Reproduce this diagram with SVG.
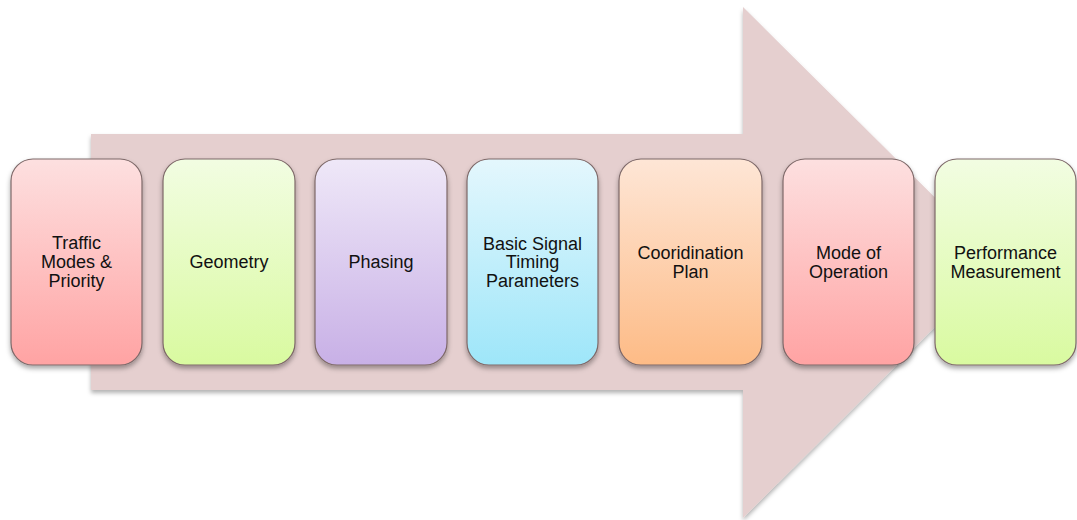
<svg xmlns="http://www.w3.org/2000/svg" width="1077" height="520" viewBox="0 0 1077 520">
<defs>
<filter id="arrowShadow" x="-5%" y="-5%" width="110%" height="115%">
<feDropShadow dx="0" dy="3" stdDeviation="2" flood-color="#000" flood-opacity="0.3"/>
</filter>
<filter id="boxShadow" x="-10%" y="-10%" width="120%" height="120%">
<feDropShadow dx="0" dy="3" stdDeviation="2.5" flood-color="#000" flood-opacity="0.35"/>
</filter>
<linearGradient id="gRed" x1="0" y1="0" x2="0" y2="1"><stop offset="0" stop-color="#fde0e0"/><stop offset="1" stop-color="#ffa3a3"/></linearGradient>
<linearGradient id="gGreen" x1="0" y1="0" x2="0" y2="1"><stop offset="0" stop-color="#f2fde2"/><stop offset="1" stop-color="#d9faa0"/></linearGradient>
<linearGradient id="gPurple" x1="0" y1="0" x2="0" y2="1"><stop offset="0" stop-color="#efe8f8"/><stop offset="1" stop-color="#c8b0e6"/></linearGradient>
<linearGradient id="gBlue" x1="0" y1="0" x2="0" y2="1"><stop offset="0" stop-color="#e4f7fd"/><stop offset="1" stop-color="#9ee6f9"/></linearGradient>
<linearGradient id="gOrange" x1="0" y1="0" x2="0" y2="1"><stop offset="0" stop-color="#fee6d6"/><stop offset="1" stop-color="#fdbb86"/></linearGradient>
</defs>
<style>
.box { stroke: #7d6868; stroke-width: 1.2; filter: url(#boxShadow); }
.lbl { font-family: "Liberation Sans", Arial, sans-serif; font-size: 18px; fill: #111; text-anchor: middle; }
</style>
<rect width="1077" height="520" fill="#ffffff"/>
<g id="connectors">
<polygon id="process-arrow" points="91,134 743,134 743,7 1000,262 743,518 743,390 91,390" fill="#e5cfcf" filter="url(#arrowShadow)"/>
</g>
<g id="node-traffic">
<rect class="box" x="11" y="159" width="131" height="206" rx="22" fill="url(#gRed)"/>
<text class="lbl" x="76.5" y="249">Traffic</text>
<text class="lbl" x="76.5" y="268">Modes &amp;</text>
<text class="lbl" x="76.5" y="287">Priority</text>
</g>
<g id="node-geometry">
<rect class="box" x="163" y="159" width="132" height="206" rx="22" fill="url(#gGreen)"/>
<text class="lbl" x="229" y="268">Geometry</text>
</g>
<g id="node-phasing">
<rect class="box" x="315" y="159" width="132" height="206" rx="22" fill="url(#gPurple)"/>
<text class="lbl" x="381" y="268">Phasing</text>
</g>
<g id="node-basic">
<rect class="box" x="467" y="159" width="131" height="206" rx="22" fill="url(#gBlue)"/>
<text class="lbl" x="532.5" y="250">Basic Signal</text>
<text class="lbl" x="532.5" y="268">Timing</text>
<text class="lbl" x="532.5" y="287">Parameters</text>
</g>
<g id="node-coordination">
<rect class="box" x="619" y="159" width="143" height="206" rx="22" fill="url(#gOrange)"/>
<text class="lbl" x="690.5" y="259">Cooridination</text>
<text class="lbl" x="690.5" y="278">Plan</text>
</g>
<g id="node-mode">
<rect class="box" x="783" y="159" width="131" height="206" rx="22" fill="url(#gRed)"/>
<text class="lbl" x="848.5" y="259">Mode of</text>
<text class="lbl" x="848.5" y="278">Operation</text>
</g>
<g id="node-performance">
<rect class="box" x="935" y="159" width="141" height="206" rx="22" fill="url(#gGreen)"/>
<text class="lbl" x="1005.5" y="259">Performance</text>
<text class="lbl" x="1005.5" y="278">Measurement</text>
</g>
</svg>
